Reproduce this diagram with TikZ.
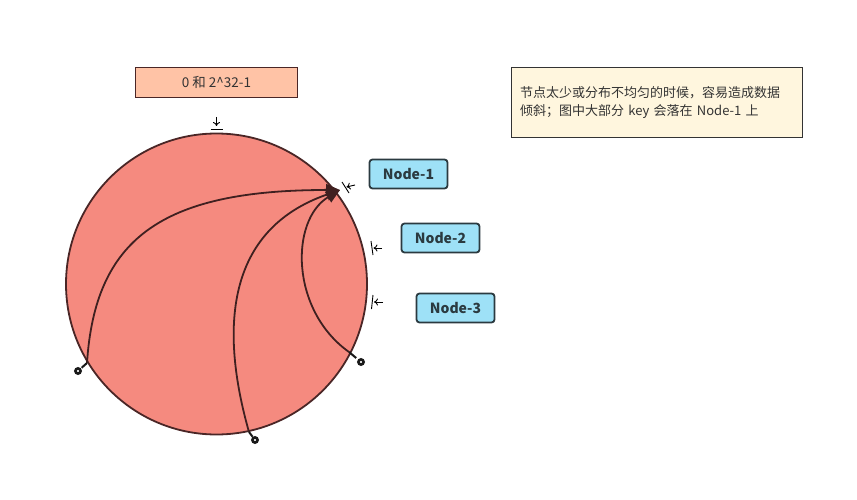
\documentclass[tikz,border=0pt]{standalone}
\usepackage{xcolor}
\usepackage{fontspec}
\setmainfont{Noto Sans CJK SC}
\usepackage{tikz}
\usetikzlibrary{shapes, arrows.meta, positioning, calc}

\definecolor{ringfill}{HTML}{F58A7F}
\definecolor{ringdraw}{HTML}{4A2626}
\definecolor{rangefill}{HTML}{FFC3A6}
\definecolor{nodefill}{HTML}{9EE1F7}
\definecolor{nodedraw}{HTML}{2B3A40}
\definecolor{notefill}{HTML}{FFF6DE}
\definecolor{textgray}{HTML}{333333}

\begin{document}
\begin{tikzpicture}[x=1pt, y=-1pt]
        % Styles
        \tikzstyle{rangebox} = [draw=ringdraw, line width=1.8pt, rectangle, minimum height=30pt, minimum width=162pt, fill=rangefill, text=textgray, font=\fontsize{13.5}{15}\selectfont]
        \tikzstyle{server} = [draw=nodedraw, line width=1.8pt, rectangle, rounded corners=3pt, minimum height=29pt, minimum width=78pt, fill=nodefill, text=nodedraw, font=\fontsize{14}{16}\selectfont\bfseries]
        \tikzstyle{notebox} = [draw=textgray, line width=1.8pt, rectangle, minimum height=70pt, minimum width=291pt, fill=notefill, text=textgray, align=left, text width=274pt, font=\fontsize{13}{18.5}\selectfont]
        \tikzstyle{hash} = [-{Triangle[length=14pt, width=12pt]}, line width=1.8pt, draw=ringdraw!85!black]
        \tikzstyle{tickmark} = [-{To[length=4pt, width=7pt]}, line width=0.9pt]
        \tikzstyle{keypin} = [line width=2pt, draw=black!90]

        \useasboundingbox (0,0) rectangle (857,500);

        % Ring
        \node [circle, draw=ringdraw, line width=1.8pt, fill=ringfill, minimum size=301pt, inner sep=0pt] (ring) at (216.5,284) {};

        % Nodes
        \node [rangebox] (range) at (216.5,82.5) {0 和 2\^{}32-1};
        \node [server] (node1) at (408.5,174) {Node-1};
        \node [server] (node2) at (440.5,238) {Node-2};
        \node [server] (node3) at (455.5,308) {Node-3};
        \node [notebox] (note) at (657,102.5) {节点太少或分布不均匀的时候，容易造成数据\\倾斜；图中大部分 key 会落在 Node-1 上};

        % Positions on the ring
        \coordinate (tip) at (340,190);
        \coordinate (start) at (216.5,126);
        \coordinate (key1) at (87,363);
        \coordinate (key2) at (249,432);
        \coordinate (key3) at (349,352);
        \coordinate (hole1) at (78,371);
        \coordinate (hole2) at (255,440);
        \coordinate (hole3) at (361,362);
        \coordinate (mark1) at (345,187);
        \coordinate (mark2) at (372,248);
        \coordinate (mark3) at (373,302);

        % Arrows
        \draw [hash] (key1) .. controls (95,240) and (160,190) .. (tip);
        \draw [hash] (key2) .. controls (220,330) and (225,230) .. (tip);
        \draw [hash] (key3) .. controls (290,310) and (290,220) .. (tip);

        % Keys
        \foreach \k in {1,2,3} {
            \draw [keypin] (key\k) -- ($(key\k)!0.6!(hole\k)$);
            \draw [keypin, line width=2.6pt, fill=white] (hole\k) circle (2.6pt);
        }

        % Marks
        \draw [line width=0.9pt] ($(start)+(-6,3)$) -- ($(start)+(6,3)$);
        \draw [tickmark] ($(start)+(0,-9)$) -- (start);
        \draw [line width=0.9pt] ($(mark1)+(-3,-5)$) -- ($(mark1)+(4,6)$);
        \draw [tickmark] ($(mark1)+(10,-2)$) -- ($(mark1)+(1.5,0)$);
        \draw [line width=0.9pt] ($(mark2)+(-1,-7)$) -- ($(mark2)+(1,7)$);
        \draw [tickmark] ($(mark2)+(10,0)$) -- ($(mark2)+(1.5,0)$);
        \draw [line width=0.9pt] ($(mark3)+(0,-7)$) -- ($(mark3)+(-1.5,7)$);
        \draw [tickmark] ($(mark3)+(10,0)$) -- ($(mark3)+(1,0)$);
    \end{tikzpicture}
\end{document}
